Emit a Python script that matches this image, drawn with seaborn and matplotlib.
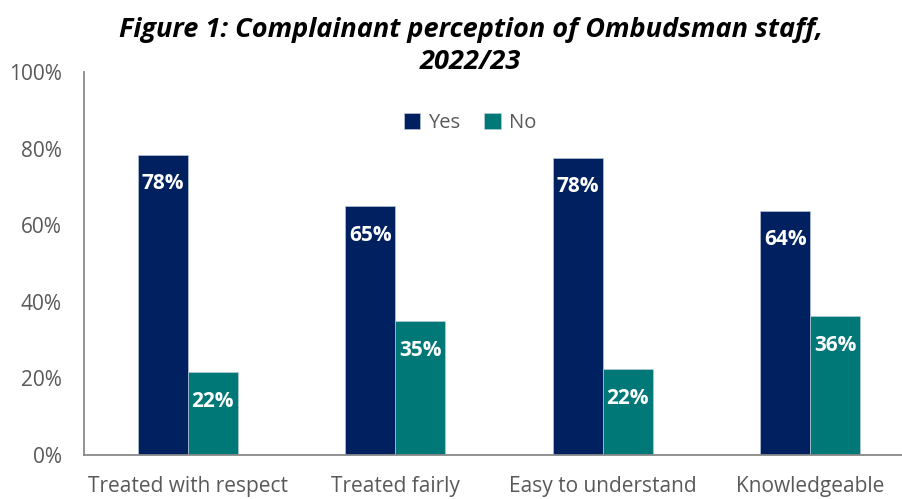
import matplotlib
matplotlib.use("Agg")
import matplotlib.pyplot as plt
import seaborn as sns
import pandas as pd

# ---- Data ----
categories = ["Treated with respect", "Treated fairly", "Easy to understand", "Knowledgeable"]
yes_values = [78, 65, 78, 64]
no_values = [22, 35, 22, 36]
bar_heights_yes = [78.4, 65.0, 77.6, 63.8]
bar_heights_no = [21.6, 35.0, 22.4, 36.2]

NAVY = "#002060"
TEAL = "#007878"
GREY = "#595959"

df = pd.DataFrame({
    "category": categories * 2,
    "answer": ["Yes"] * 4 + ["No"] * 4,
    "height": bar_heights_yes + bar_heights_no,
    "label": yes_values + no_values,
})

sns.set_theme(style="white")
plt.rcParams["font.family"] = ["Open Sans", "DejaVu Sans"]

fig = plt.figure(figsize=(9.03, 4.99), dpi=100)
ax = fig.add_axes([84 / 903, 44 / 499, 830 / 903, 383 / 499])

sns.barplot(data=df, x="category", y="height", hue="answer",
            palette={"Yes": NAVY, "No": TEAL}, width=0.48,
            edgecolor="#c8d0e0", linewidth=0.4, ax=ax, saturation=1)

# data labels inside bars
for container, labels in zip(ax.containers, [yes_values, no_values]):
    for bar, lab in zip(container, labels):
        ax.annotate(f"{lab}%", (bar.get_x() + bar.get_width() / 2, bar.get_height()),
                    xytext=(0, -21), textcoords="offset points", ha="center", va="center",
                    color="white", fontsize=15, fontweight="bold")

ax.set_ylim(0, 100)
ax.set_xlim(-0.5, 3.5)
ax.set_yticks(range(0, 101, 20))
ax.set_yticklabels([f"{v}%" for v in range(0, 101, 20)])
ax.set_xlabel("")
ax.set_ylabel("")
ax.tick_params(axis="both", colors=GREY, labelsize=15, length=0)
ax.tick_params(axis="y", pad=16)
ax.tick_params(axis="x", pad=15)

for side in ["top", "right"]:
    ax.spines[side].set_visible(False)
for side in ["left", "bottom"]:
    ax.spines[side].set_color("#898989")
    ax.spines[side].set_linewidth(1.3)

leg = ax.legend(loc="center", bbox_to_anchor=((470 - 84) / 830, (499 - 123 - 44) / 383),
                ncol=2, frameon=False, fontsize=14.5, handlelength=0.8, handleheight=0.8,
                columnspacing=1.2, handletextpad=0.4)
for t in leg.get_texts():
    t.set_color(GREY)

fig.text(0.521, 0.907, "Figure 1: Complainant perception of Ombudsman staff,\n2022/23",
         ha="center", va="center", fontsize=19.5, fontweight="bold", fontstyle="italic",
         color="black", linespacing=1.3)

fig.savefig("out.png", dpi=100)
